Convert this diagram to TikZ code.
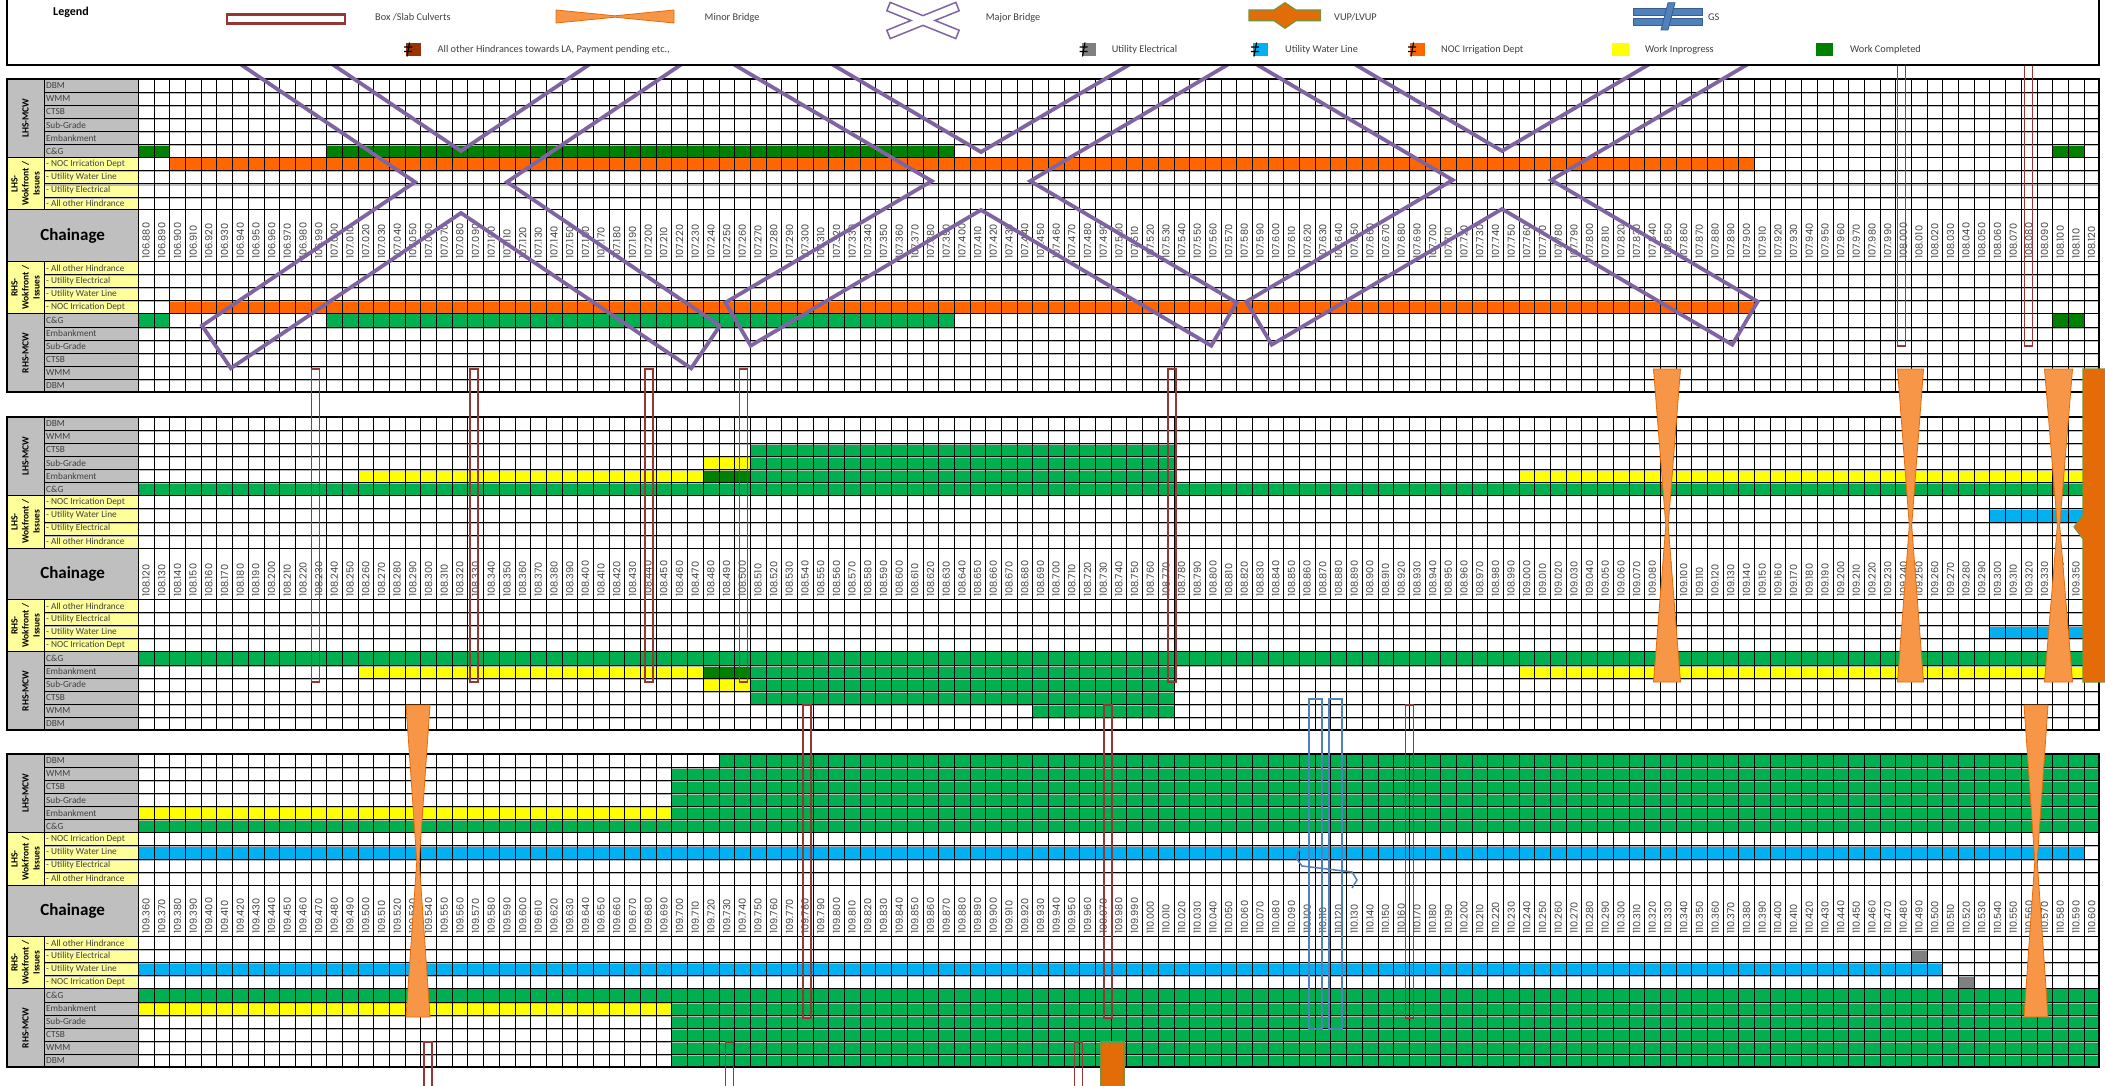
\documentclass[tikz,border=0pt]{standalone}
\usepackage{fontspec}
\setmainfont{Carlito}
\newfontfamily\numfont{Poppins}
\usetikzlibrary{calc}

\definecolor{cgreen}{HTML}{00B050}
\definecolor{dgreen}{HTML}{008000}
\definecolor{nocorange}{HTML}{FF6600}
\definecolor{wip}{HTML}{FFFF00}
\definecolor{water}{HTML}{00B0F0}
\definecolor{elec}{HTML}{808080}
\definecolor{hindr}{HTML}{993300}
\definecolor{lblgray}{HTML}{BFBFBF}
\definecolor{lblyellow}{HTML}{FFFF99}
\definecolor{txtgray}{HTML}{404040}
\definecolor{majpurple}{HTML}{8064A2}
\definecolor{culvred}{HTML}{953735}
\definecolor{minorange}{HTML}{F79646}
\definecolor{minedge}{HTML}{E46C0A}
\definecolor{vuporange}{HTML}{E36C09}
\definecolor{vupedge}{HTML}{77933C}
\definecolor{gsblue}{HTML}{4F81BD}
\definecolor{gsedge}{HTML}{385D8A}

\def\gx{138.3}\def\cw{15.69}\def\rh{13.1}\def\chh{51.3}

\tikzset{
  rowline/.style={black,line width=0.6pt},
  rowshade/.style={gray!55,line width=1.1pt},
  colline/.style={black,line width=0.6pt},
  frame/.style={black,line width=2.2pt},
  itemlbl/.style={anchor=west,inner sep=0pt,text=txtgray,font=\fontsize{9.3}{9.3}\selectfont},
  grplbl/.style={rotate=90,align=center,inner sep=0pt,text=black,font=\bfseries\fontsize{9.5}{11}\selectfont},
  numlbl/.style={rotate=90,anchor=west,inner sep=0pt,text=txtgray,font=\numfont\fontsize{9.8}{10}\selectfont},
  majorbr/.style={draw=majpurple,line width=3.8pt,line join=miter},
  culvert/.style={draw=culvred,line width=1.8pt},
  minorbr/.style={fill=minorange,draw=minedge,line width=0.8pt},
  vupbr/.style={fill=vuporange,draw=vupedge,line width=1.2pt},
  gsbr/.style={draw=gsblue,line width=1.8pt},
  lgdtxt/.style={anchor=west,inner sep=0pt,text=txtgray,font=\fontsize{10.3}{10.3}\selectfont}
}

% work bar: row, first col, last col, colour
\newcommand{\wk}[4]{\fill[#4] ({\gx+#2*\cw},{#1*\rh+(#1>10)*(\chh-\rh)}) rectangle ++({(#3-#2+1)*\cw},\rh);}

% major bridge: centre x, centre y, angle, half length, half width
\newcommand{\majbr}[5]{%
  \begin{scope}[shift={(#1,#2)}]
    \draw[majorbr] (-90:{#5/cos(#3)})
      -- ([shift={(270-#3:#5)}]-#3:#4) -- ([shift={(90-#3:#5)}]-#3:#4)
      -- (0:{#5/sin(#3)})
      -- ([shift={(#3-90:#5)}]#3:#4) -- ([shift={(#3+90:#5)}]#3:#4)
      -- (90:{#5/cos(#3)})
      -- ([shift={(90-#3:#5)}]180-#3:#4) -- ([shift={(270-#3:#5)}]180-#3:#4)
      -- (180:{#5/sin(#3)})
      -- ([shift={(#3+90:#5)}]180+#3:#4) -- ([shift={(#3-90:#5)}]180+#3:#4)
      -- cycle;
  \end{scope}}

% minor bridge: centre x, top, bottom, half width
\newcommand{\minbr}[4]{\filldraw[minorbr] (#1-#4,#2) -- (#1+#4,#2) -- (#1+1.2,{(#2+#3)/2})
  -- (#1+#4,#3) -- (#1-#4,#3) -- (#1-1.2,{(#2+#3)/2}) -- cycle;}

% legend icon
\newcommand{\hicon}[3]{\fill[#3] (#1+2,#2) rectangle (#1+16.5,#2+13);
  \draw[black,line width=1.2pt] (#1,#2+4) -- (#1+8,#2+4) (#1,#2+8.5) -- (#1+8,#2+8.5) (#1+5.5,#2-0.5) -- (#1+3,#2+13.5);}

\newcommand{\panelbase}{%
  \fill[lblgray] (7,0) rectangle (138.3,78.6);
  \fill[lblyellow] (7,78.6) rectangle (138.3,131);
  \fill[lblgray] (7,131) rectangle (138.3,182.3);
  \fill[lblyellow] (7,182.3) rectangle (138.3,234.7);
  \fill[lblgray] (7,234.7) rectangle (138.3,313.3);
  \fill[white] (138.3,0) rectangle (2099,313.3);}

% grid, labels and chainage: id, km, m
\newcommand{\panelgrid}[3]{%
  \foreach \yy in {13.1,26.2,39.3,52.4,65.5,91.7,104.8,117.9,195.4,208.5,221.6,247.8,260.9,274,287.1,300.2}
    {\draw[rowshade] (44.3,\yy+1.2) -- (2099,\yy+1.2);
     \draw[rowline] (44.3,\yy) -- (2099,\yy);}
  \foreach \yy in {78.6,131,182.3,234.7}
    {\draw[rowline,line width=1pt] (7,\yy) -- (2099,\yy);}
  \foreach \i in {0,...,125}
    {\draw[colline] ({\gx+\i*\cw},0) -- ({\gx+\i*\cw},313.3);}
  \draw[colline] (44.3,0) -- (44.3,131) (44.3,182.3) -- (44.3,313.3);
  \draw[black,line width=1.4pt] (138.3,0) -- (138.3,313.3);
  \foreach \lab [count=\k from 0] in {DBM,WMM,CTSB,Sub-Grade,Embankment,C\&G,- NOC Irrication Dept,- Utility Water Line,- Utility Electrical,- All other Hindrance}
    {\node[itemlbl] (#1l\k) at (46,{(\k+0.5)*\rh}) {\lab};}
  \foreach \lab [count=\k from 0] in {- All other Hindrance,- Utility Electrical,- Utility Water Line,- NOC Irrication Dept,C\&G,Embankment,Sub-Grade,CTSB,WMM,DBM}
    {\node[itemlbl] (#1r\k) at (46,{182.3+(\k+0.5)*\rh}) {\lab};}
  \node[grplbl] (#1g1) at (25.6,39.3) {LHS-MCW};
  \node[grplbl] (#1g2) at (25.6,104.8) {LHS-\\Wokfront /\\Issues};
  \node[font=\bfseries\fontsize{17}{17}\selectfont] (#1g3) at (72.6,156.6) {Chainage};
  \node[grplbl] (#1g4) at (25.6,208.5) {RHS-\\Wokfront /\\Issues};
  \node[grplbl] (#1g5) at (25.6,274) {RHS-MCW};
  \foreach \i in {0,...,124}
    {\pgfmathtruncatemacro\mm{#3+10*\i}
     \pgfmathtruncatemacro\kk{#2+floor(\mm/1000)}
     \pgfmathtruncatemacro\rr{mod(\mm,1000)}
     \node[numlbl] (#1c\i) at ({\gx+(\i+0.5)*\cw},180) {\kk.\ifnum\rr<100 0\fi\ifnum\rr<10 0\fi\rr};}
  \draw[frame] (7,0) rectangle (2099,313.3);}

\begin{document}
\begin{tikzpicture}[x=1pt,y=-1pt]
  \useasboundingbox (0,0) rectangle (2105,1086);
  \fill[white] (0,0) rectangle (2105,1086);

  \begin{scope}[shift={(0,79)}]
    \panelbase
    \wk{5}{0}{1}{dgreen} \wk{5}{12}{51}{dgreen} \wk{5}{122}{123}{dgreen}
    \wk{6}{2}{102}{nocorange} \wk{14}{2}{102}{nocorange}
    \wk{15}{0}{1}{cgreen} \wk{15}{12}{51}{cgreen} \wk{15}{122}{123}{dgreen}
    \panelgrid{pa}{106}{880}
  \end{scope}

  \begin{scope}[shift={(0,417)}]
    \panelbase
    \wk{2}{39}{65}{cgreen}
    \wk{3}{36}{38}{wip} \wk{3}{39}{65}{cgreen}
    \wk{4}{14}{35}{wip} \wk{4}{36}{38}{dgreen} \wk{4}{39}{65}{cgreen} \wk{4}{88}{124}{wip}
    \wk{5}{0}{124}{cgreen}
    \wk{7}{118}{124}{water} \wk{13}{118}{124}{water}
    \wk{15}{0}{124}{cgreen}
    \wk{16}{14}{35}{wip} \wk{16}{36}{38}{dgreen} \wk{16}{39}{65}{cgreen} \wk{16}{88}{124}{wip}
    \wk{17}{36}{38}{wip} \wk{17}{39}{65}{cgreen}
    \wk{18}{39}{65}{cgreen} \wk{19}{57}{65}{cgreen}
    \panelgrid{pb}{108}{120}
  \end{scope}

  \begin{scope}[shift={(0,754)}]
    \panelbase
    \wk{0}{37}{124}{cgreen}
    \foreach \r in {1,2,3} {\wk{\r}{34}{124}{cgreen}}
    \wk{4}{0}{33}{wip} \wk{4}{34}{124}{cgreen}
    \wk{5}{0}{124}{cgreen} \wk{7}{0}{123}{water}
    \wk{12}{113}{113}{elec} \wk{13}{0}{114}{water} \wk{14}{116}{116}{elec}
    \wk{15}{0}{124}{cgreen}
    \wk{16}{0}{33}{wip} \wk{16}{34}{124}{cgreen}
    \foreach \r in {17,...,20} {\wk{\r}{34}{124}{cgreen}}
    \panelgrid{pc}{109}{360}
  \end{scope}

  % major bridges
  \majbr{461}{182}{34}{295}{25.7}
  \majbr{981}{181}{30.5}{282}{25}
  \majbr{1502}{180}{30.5}{282}{25}

  % culverts
  \foreach \cx/\ya/\yb in {1901.5/40/346, 2028.5/40/346, 315.5/369/682, 474/369/682, 649/369/682,
      743.5/369/682, 1172/369/682, 807/705/1018, 1108/705/1018, 1409.5/705/1018,
      428/1042/1095, 729.5/1042/1095, 1078.5/1042/1095}
    {\draw[culvert] (\cx-4,\ya) rectangle (\cx+4,\yb);}

  % minor bridges
  \minbr{1667}{369}{682}{13.5}
  \minbr{1910.5}{369}{682}{13}
  \minbr{2058.5}{369}{682}{14}
  \minbr{418}{705}{1017}{12}
  \minbr{2036}{705}{1017}{12}

  % VUP
  \filldraw[vupbr] (2083,369) -- (2083,515) -- (2074,527) -- (2083,539) -- (2083,682)
    -- (2112,682) -- (2112,369) -- cycle;
  \filldraw[vupbr] (1101,1042) rectangle (1124,1100);

  % GS
  \draw[gsbr,line width=1.5pt] (1300,848) -- (1296,858) -- (1302,866) -- (1352,872) -- (1357,880) -- (1352,888);
  \draw[gsbr] (1309,699) rectangle (1322,1029) (1329,699) rectangle (1342,1029);

  % legend
  \draw[frame,fill=white] (7,-5) rectangle (2099,65);
  \node[anchor=west,inner sep=0pt,font=\bfseries\fontsize{12}{12}\selectfont] (lgtitle) at (53,12) {Legend};
  \draw[culvert,line width=2.2pt] (227,14.5) rectangle (345,23.5);
  \node[lgdtxt] (lgculv) at (375,17.5) {Box /Slab Culverts};
  \filldraw[minorbr] (556,10) -- (615,15.8) -- (674,10) -- (674,23) -- (615,17.2) -- (556,23) -- cycle;
  \node[lgdtxt] (lgminor) at (704.5,17.5) {Minor Bridge};
  \begin{scope}
    \tikzset{majorbr/.style={draw=majpurple,fill=white,line width=1.5pt}}
    \majbr{923}{20.5}{22}{37.2}{4.5}
  \end{scope}
  \node[lgdtxt] (lgmajor) at (985.7,17.5) {Major Bridge};
  \filldraw[vupbr] (1249,10) -- (1274,10) -- (1285,2.7) -- (1296,10) -- (1320.5,10) -- (1320.5,20.7)
    -- (1296,20.7) -- (1285,28.3) -- (1274,20.7) -- (1249,20.7) -- cycle;
  \node[lgdtxt] (lgvup) at (1334,17.5) {VUP/LVUP};
  \filldraw[fill=gsblue,draw=gsedge,line width=0.8pt] (1633,8.3) rectangle (1702,15) (1633,18.3) rectangle (1702,25);
  \filldraw[fill=gsblue,draw=gsedge,line width=0.8pt] (1668,2.7) -- (1675,2.7) -- (1668,30) -- (1661,30) -- cycle;
  \node[lgdtxt] (lggs) at (1708,17.5) {GS};

  \hicon{404}{43}{hindr}
  \node[lgdtxt] (lghind) at (437.5,49.5) {All other Hindrances towards LA, Payment pending etc.,};
  \hicon{1079.5}{43}{elec}
  \node[lgdtxt] (lgelec) at (1111.6,49.5) {Utility Electrical};
  \hicon{1251}{43}{water}
  \node[lgdtxt] (lgwater) at (1285,49.5) {Utility Water Line};
  \hicon{1408}{43}{nocorange}
  \node[lgdtxt] (lgnoc) at (1441,49.5) {NOC Irrigation Dept};
  \fill[wip] (1612,43) rectangle (1629,56);
  \node[lgdtxt] (lgwip) at (1645,49.5) {Work Inprogress};
  \fill[dgreen] (1816,43) rectangle (1833,56);
  \node[lgdtxt] (lgdone) at (1850,49.5) {Work Completed};
\end{tikzpicture}
\end{document}
